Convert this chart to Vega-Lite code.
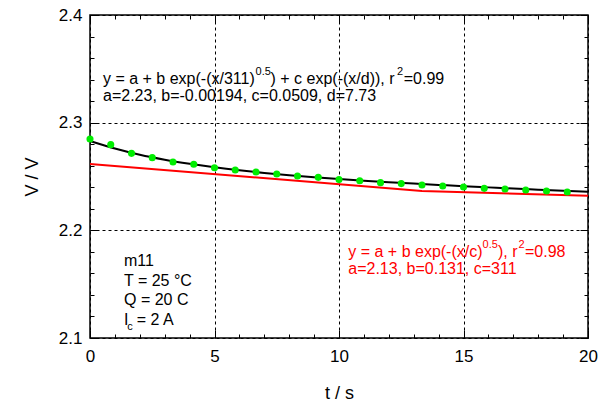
{
  "$schema": "https://vega.github.io/schema/vega-lite/v6.json",
  "width": 498,
  "height": 323,
  "autosize": "none",
  "padding": {"left": 90, "top": 15, "right": 17, "bottom": 65},
  "background": "white",
  "config": {
    "font": "Liberation Sans",
    "view": {"stroke": "black", "strokeWidth": 1.5},
    "axis": {
      "domain": false,
      "tickColor": "black",
      "tickWidth": 1,
      "labelColor": "black",
      "labelFontSize": 17,
      "labelFont": "Liberation Sans",
      "titleFont": "Liberation Sans",
      "titleFontSize": 18,
      "titleFontWeight": "normal",
      "titleColor": "black",
      "gridColor": "black",
      "gridDash": [3, 3],
      "gridWidth": 1,
      "gridOpacity": 1
    }
  },
  "resolve": {"axis": {"x": "independent", "y": "independent"}},
  "layer": [
    {
      "data": {"values": [
        {"t": 0, "V": 2.2616},
        {"t": 13.33, "V": 2.2366},
        {"t": 20, "V": 2.2322}
      ]},
      "mark": {"type": "line", "color": "#ff0000", "strokeWidth": 2},
      "encoding": {
        "x": {"field": "t", "type": "quantitative",
              "scale": {"domain": [0, 20], "nice": false, "zero": false},
              "axis": {"orient": "bottom", "title": "t / s", "values": [0, 5, 10, 15, 20], "format": "d",
                       "grid": true, "tickSize": -8, "labelPadding": 18, "titlePadding": 20, "labelFlush": false}},
        "y": {"field": "V", "type": "quantitative",
              "scale": {"domain": [2.1, 2.4], "nice": false, "zero": false},
              "axis": {"orient": "left", "title": "V / V", "values": [2.1, 2.2, 2.3, 2.4], "format": ".1f",
                       "grid": true, "tickSize": -8, "labelPadding": 16, "titlePadding": 17, "labelFlush": false}}
      }
    },
    {
      "data": {"values": [
        {"t": 0, "V": 2.2830}, {"t": 1, "V": 2.2760}, {"t": 2, "V": 2.2702}, {"t": 3, "V": 2.2656},
        {"t": 4, "V": 2.2618}, {"t": 5, "V": 2.2585}, {"t": 6, "V": 2.2557}, {"t": 7, "V": 2.2533},
        {"t": 8, "V": 2.2512}, {"t": 9, "V": 2.2493}, {"t": 10, "V": 2.2476}, {"t": 11, "V": 2.2461},
        {"t": 12, "V": 2.2447}, {"t": 13, "V": 2.2434}, {"t": 14, "V": 2.2422}, {"t": 15, "V": 2.2410},
        {"t": 16, "V": 2.2399}, {"t": 17, "V": 2.2388}, {"t": 18, "V": 2.2378}, {"t": 19, "V": 2.2368},
        {"t": 20, "V": 2.2358}
      ]},
      "mark": {"type": "line", "color": "black", "strokeWidth": 2, "interpolate": "monotone"},
      "encoding": {
        "x": {"field": "t", "type": "quantitative",
              "axis": {"orient": "bottom", "title": null, "labels": false, "grid": false, "tickSize": -4,
                       "values": [1, 2, 3, 4, 6, 7, 8, 9, 11, 12, 13, 14, 16, 17, 18, 19]}},
        "y": {"field": "V", "type": "quantitative",
              "axis": {"orient": "left", "title": null, "labels": false, "grid": false, "tickSize": -4,
                       "values": [2.12, 2.14, 2.16, 2.18, 2.22, 2.24, 2.26, 2.28, 2.32, 2.34, 2.36, 2.38]}}
      }
    },
    {
      "data": {"values": [
        {"t": 0, "V": 2.2848}, {"t": 0.833, "V": 2.2796}, {"t": 1.667, "V": 2.2715}, {"t": 2.5, "V": 2.2675},
        {"t": 3.333, "V": 2.2635}, {"t": 4.167, "V": 2.2613}, {"t": 5, "V": 2.2582}, {"t": 5.833, "V": 2.2561},
        {"t": 6.667, "V": 2.2542}, {"t": 7.5, "V": 2.2523}, {"t": 8.333, "V": 2.2505}, {"t": 9.167, "V": 2.2492},
        {"t": 10, "V": 2.2471}, {"t": 10.833, "V": 2.2461}, {"t": 11.667, "V": 2.2443}, {"t": 12.5, "V": 2.2434},
        {"t": 13.333, "V": 2.2421}, {"t": 14.167, "V": 2.2412}, {"t": 15, "V": 2.2403}, {"t": 15.833, "V": 2.2390},
        {"t": 16.667, "V": 2.2384}, {"t": 17.5, "V": 2.2375}, {"t": 18.333, "V": 2.2366}, {"t": 19.167, "V": 2.2356}
      ]},
      "mark": {"type": "circle", "color": "#00ee00", "size": 50, "opacity": 1},
      "encoding": {
        "x": {"field": "t", "type": "quantitative",
              "axis": {"orient": "top", "title": null, "labels": false, "grid": false, "tickSize": -8,
                       "values": [0, 5, 10, 15, 20]}},
        "y": {"field": "V", "type": "quantitative",
              "axis": {"orient": "right", "title": null, "labels": false, "grid": false, "tickSize": -8,
                       "values": [2.1, 2.2, 2.3, 2.4]}}
      }
    },
    {
      "data": {"values": [
        {"t": 0.522, "V": 2.3359, "label": "y = a + b exp(-(x/311)"},
        {"t": 7.249, "V": 2.3359, "label": ") + c exp(-(x/d)), r"},
        {"t": 12.6, "V": 2.3359, "label": "=0.99"},
        {"t": 0.522, "V": 2.3201, "label": "a=2.23, b=-0.00194, c=0.0509, d=7.73"}
      ]},
      "mark": {"type": "text", "align": "left", "baseline": "alphabetic", "fontSize": 16, "color": "black"},
      "encoding": {
        "x": {"field": "t", "type": "quantitative",
              "axis": {"orient": "top", "title": null, "labels": false, "grid": false, "tickSize": -4,
                       "values": [1, 2, 3, 4, 6, 7, 8, 9, 11, 12, 13, 14, 16, 17, 18, 19]}},
        "y": {"field": "V", "type": "quantitative",
              "axis": {"orient": "right", "title": null, "labels": false, "grid": false, "tickSize": -4,
                       "values": [2.12, 2.14, 2.16, 2.18, 2.22, 2.24, 2.26, 2.28, 2.32, 2.34, 2.36, 2.38]}},
        "text": {"field": "label"}
      }
    },
    {
      "data": {"values": [
        {"t": 6.647, "V": 2.3443, "label": "0.5"},
        {"t": 12.33, "V": 2.3443, "label": "2"}
      ]},
      "mark": {"type": "text", "align": "left", "baseline": "alphabetic", "fontSize": 11, "color": "black"},
      "encoding": {
        "x": {"field": "t", "type": "quantitative", "axis": null},
        "y": {"field": "V", "type": "quantitative", "axis": null},
        "text": {"field": "label"}
      }
    },
    {
      "data": {"values": [
        {"t": 10.373, "V": 2.1752, "label": "y = a + b exp(-(x/c)"},
        {"t": 16.386, "V": 2.1752, "label": "), r"},
        {"t": 17.47, "V": 2.1752, "label": "=0.98"},
        {"t": 10.373, "V": 2.1594, "label": "a=2.13, b=0.131, c=311"}
      ]},
      "mark": {"type": "text", "align": "left", "baseline": "alphabetic", "fontSize": 16, "color": "#ff0000"},
      "encoding": {
        "x": {"field": "t", "type": "quantitative", "axis": null},
        "y": {"field": "V", "type": "quantitative", "axis": null},
        "text": {"field": "label"}
      }
    },
    {
      "data": {"values": [
        {"t": 15.767, "V": 2.1836, "label": "0.5"},
        {"t": 17.209, "V": 2.1836, "label": "2"}
      ]},
      "mark": {"type": "text", "align": "left", "baseline": "alphabetic", "fontSize": 11, "color": "#ff0000"},
      "encoding": {
        "x": {"field": "t", "type": "quantitative", "axis": null},
        "y": {"field": "V", "type": "quantitative", "axis": null},
        "text": {"field": "label"}
      }
    },
    {
      "data": {"values": [
        {"t": 1.365, "V": 2.1668, "label": "m11"},
        {"t": 1.365, "V": 2.1487, "label": "T = 25 °C"},
        {"t": 1.365, "V": 2.1306, "label": "Q = 20 C"},
        {"t": 1.365, "V": 2.1125, "label": "I"},
        {"t": 1.875, "V": 2.1125, "label": "= 2 A"}
      ]},
      "mark": {"type": "text", "align": "left", "baseline": "alphabetic", "fontSize": 16, "color": "black"},
      "encoding": {
        "x": {"field": "t", "type": "quantitative", "axis": null},
        "y": {"field": "V", "type": "quantitative", "axis": null},
        "text": {"field": "label"}
      }
    },
    {
      "data": {"values": [
        {"t": 1.498, "V": 2.1074, "label": "c"}
      ]},
      "mark": {"type": "text", "align": "left", "baseline": "alphabetic", "fontSize": 11, "color": "black"},
      "encoding": {
        "x": {"field": "t", "type": "quantitative", "axis": null},
        "y": {"field": "V", "type": "quantitative", "axis": null},
        "text": {"field": "label"}
      }
    }
  ]
}
